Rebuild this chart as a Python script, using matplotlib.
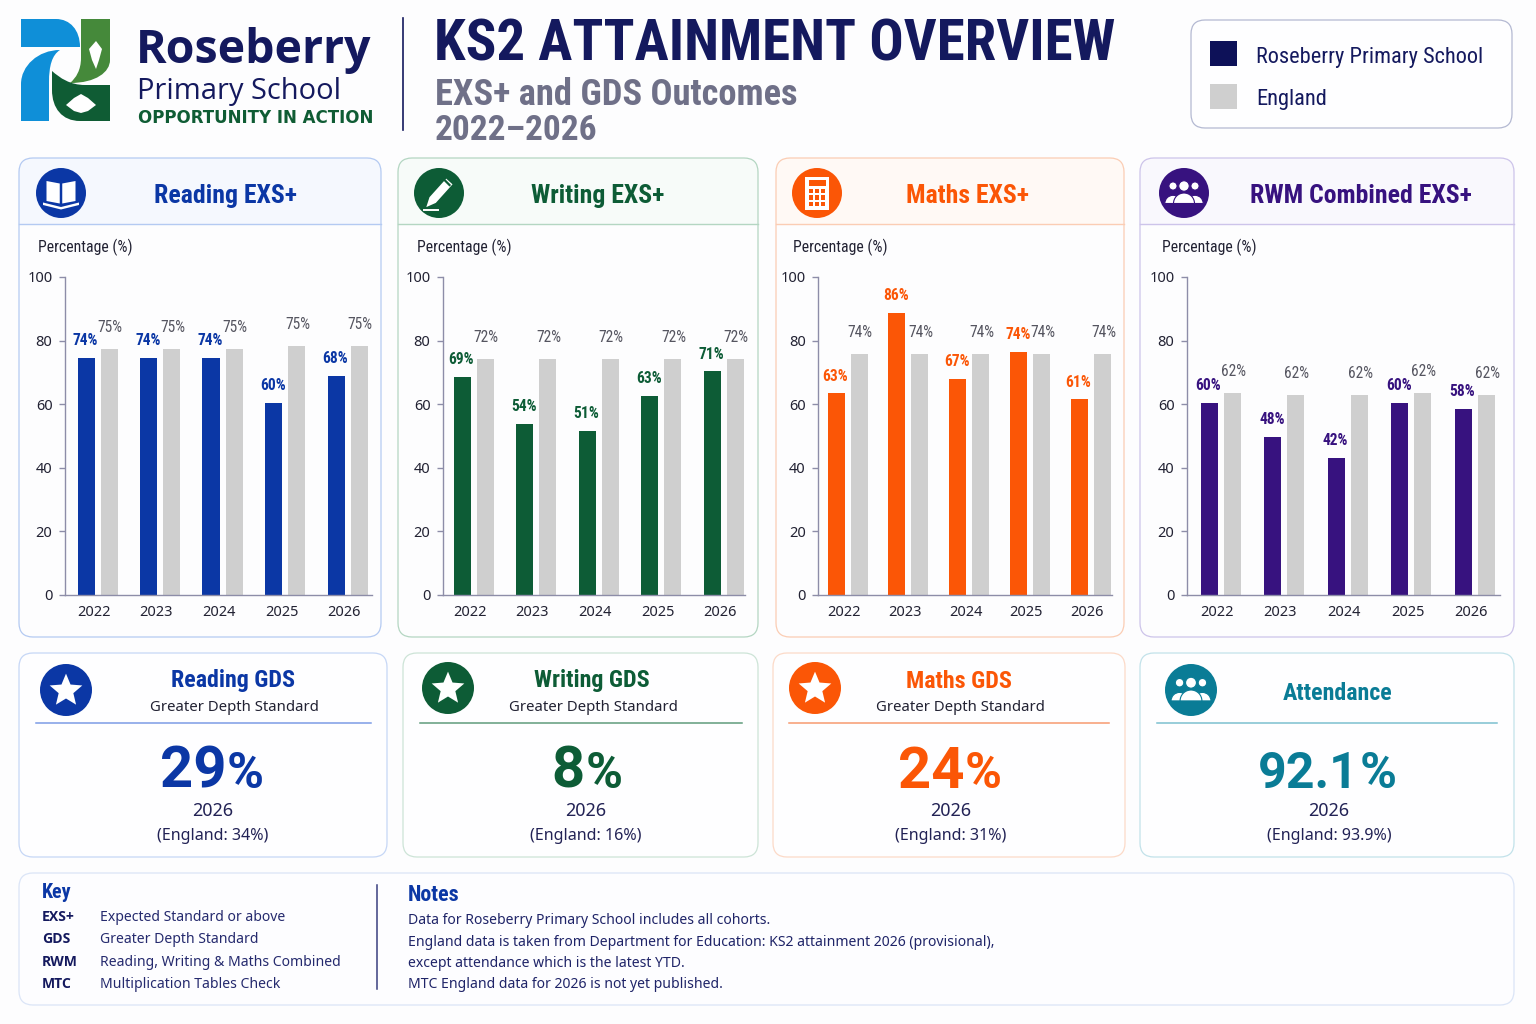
import matplotlib
matplotlib.use('Agg')
import matplotlib.pyplot as plt
import matplotlib.font_manager as fm
from matplotlib.patches import FancyBboxPatch, Circle, Rectangle, PathPatch, Polygon, Wedge
from matplotlib.path import Path
from matplotlib.transforms import Affine2D

W, H = 1536, 1024


def pick(names):
    for n in names:
        try:
            fm.findfont(n, fallback_to_default=False)
            return n
        except ValueError:
            pass
    return 'DejaVu Sans'


NARROW = pick(['Roboto Condensed', 'Liberation Sans Narrow', 'Open Sans Condensed', 'Roboto'])
BODY = 'Noto Sans'
LOGO = 'Open Sans'

# data
years = ['2022', '2023', '2024', '2025', '2026']
yticks = [0, 20, 40, 60, 80, 100]

reading_school = [74.6, 74.6, 74.6, 60.3, 68.9]
reading_england = [77.5, 77.5, 77.5, 78.4, 78.4]
reading_school_labels = ['74%', '74%', '74%', '60%', '68%']
reading_england_labels = ['75%', '75%', '75%', '75%', '75%']

writing_school = [68.7, 53.8, 51.7, 62.7, 70.3]
writing_england = [74.3, 74.3, 74.3, 74.3, 74.3]
writing_school_labels = ['69%', '54%', '51%', '63%', '71%']
writing_england_labels = ['72%', '72%', '72%', '72%', '72%']

maths_school = [63.4, 88.7, 68.0, 76.4, 61.5]
maths_england = [75.7, 75.7, 75.7, 75.7, 75.7]
maths_school_labels = ['63%', '86%', '67%', '74%', '61%']
maths_england_labels = ['74%', '74%', '74%', '74%', '74%']

rwm_school = [60.4, 49.6, 43.2, 60.4, 58.4]
rwm_england = [63.5, 63.0, 63.0, 63.5, 63.0]
rwm_school_labels = ['60%', '48%', '42%', '60%', '58%']
rwm_england_labels = ['62%', '62%', '62%', '62%', '62%']

key_abbr = ['EXS+', 'GDS', 'RWM', 'MTC']
key_desc = ['Expected Standard or above', 'Greater Depth Standard',
            'Reading, Writing & Maths Combined', 'Multiplication Tables Check']
notes = ['Data for Roseberry Primary School includes all cohorts.',
         'England data is taken from Department for Education: KS2 attainment 2026 (provisional),',
         'except attendance which is the latest YTD.',
         'MTC England data for 2026 is not yet published.']

NAVY = '#14195e'
GREY = '#cfcfcf'
BLUE, GREEN, ORANGE, PURPLE, TEAL = '#0b37a5', '#0d5c36', '#fb5606', '#37127f', '#0a7c96'

fig = plt.figure(figsize=(W / 100, H / 100), dpi=100, facecolor='#fdfdfe')
bg = fig.add_axes([0, 0, 1, 1])
bg.set_xlim(0, W)
bg.set_ylim(H, 0)
bg.axis('off')


def txt(x, y, s, px, color=NAVY, ha='center', va='center', weight='normal', family=BODY):
    # noto sans sits a little high when centred
    if family == BODY and va == 'center':
        y += 1.5
    return bg.text(x, y, s, fontsize=px * 0.72, color=color, ha=ha, va=va,
                   fontweight=weight, family=family)


def card(x0, y0, x1, y1, edge, fill='#fefeff', lw=0.9):
    p = FancyBboxPatch((x0, y0), x1 - x0, y1 - y0, boxstyle='round,pad=0,rounding_size=14',
                       fc=fill, ec=edge, lw=lw, zorder=1)
    bg.add_patch(p)
    return p


def ic_book(cx, cy, r, c):
    for s in (-1, 1):
        bg.add_patch(Polygon([(cx + s * .05 * r, cy - .38 * r), (cx + s * .58 * r, cy - .48 * r),
                              (cx + s * .58 * r, cy + .32 * r), (cx + s * .05 * r, cy + .42 * r)],
                             fc='white', ec='none', zorder=4))
    bg.add_patch(Polygon([(cx - .72 * r, cy + .38 * r), (cx, cy + .56 * r), (cx + .72 * r, cy + .38 * r),
                          (cx + .72 * r, cy + .48 * r), (cx, cy + .66 * r), (cx - .72 * r, cy + .48 * r)],
                         fc='white', ec='none', zorder=4))


def ic_pencil(cx, cy, r, c):
    body = Polygon([(-.17, -.62), (.17, -.62), (.17, .38), (0, .76), (-.17, .38)], fc='white', ec='none', zorder=4,
                   transform=Affine2D().scale(r).rotate_deg(42).translate(cx, cy) + bg.transData)
    bg.add_patch(body)
    bg.plot([cx + .22 * r, cx + .42 * r], [cy - .52 * r, cy - .32 * r], color=c, lw=1.6, zorder=5)
    bg.plot([cx - .62 * r, cx - .05 * r], [cy + .68 * r, cy + .68 * r], color='white', lw=1.4, zorder=4)


def ic_calc(cx, cy, r, c):
    bg.add_patch(Rectangle((cx - .48 * r, cy - .66 * r), .96 * r, 1.32 * r, fc='white', ec='none', zorder=4))
    bg.add_patch(Rectangle((cx - .34 * r, cy - .52 * r), .68 * r, .24 * r, fc=c, ec='none', zorder=5))
    for i in range(3):
        for j in range(3):
            bg.add_patch(Rectangle((cx - .34 * r + i * .25 * r, cy - .16 * r + j * .25 * r), .17 * r, .17 * r,
                                   fc=c, ec='none', zorder=5))


def ic_people(cx, cy, r, c):
    for dx, s in ((-.44, .78), (.44, .78), (0, 1)):
        bg.add_patch(Circle((cx + dx * r, cy - .28 * r), .21 * r * s, fc='white', ec=c, lw=.8, zorder=4 + s))
        bg.add_patch(Wedge((cx + dx * r, cy + .42 * r), .42 * r * s, 180, 360, fc='white', ec=c, lw=.8, zorder=4 + s))


def ic_star(cx, cy, r, c):
    tr = Affine2D().scale(.66 * r, -.66 * r).translate(cx, cy + .03 * r) + bg.transData
    bg.add_patch(PathPatch(Path.unit_regular_star(5, 0.45), fc='white', ec='none', transform=tr, zorder=4))


def icon(cx, cy, r, c, fn):
    bg.add_patch(Circle((cx, cy), r, fc=c, ec='none', zorder=3))
    fn(cx, cy, r, c)


# logo
def shape(verts, c):
    codes = [Path.MOVETO] + [Path.CURVE4 if v[2] else Path.LINETO for v in verts[1:]] + [Path.CLOSEPOLY]
    pts = [(v[0], v[1]) for v in verts] + [(verts[0][0], verts[0][1])]
    bg.add_patch(PathPatch(Path(pts, codes), fc=c, ec='none', zorder=2))


shape([(21, 19, 0), (56, 19, 0), (70, 19, 1), (80, 30, 1), (80, 47, 1), (21, 47, 0)], '#0f8fd8')
shape([(60, 50, 0), (38, 50, 1), (21, 66, 1), (21, 84, 1), (21, 121, 0), (49, 121, 0), (49, 82, 0),
       (49, 66, 1), (52, 55, 1), (60, 50, 1)], '#0f8fd8')
shape([(81, 19, 0), (110, 19, 0), (110, 60, 0), (110, 72, 1), (96, 83, 1), (70, 83, 1),
       (76, 78, 1), (81, 70, 1), (81, 58, 1)], '#45893a')
shape([(52, 71, 0), (60, 78, 1), (70, 85, 1), (85, 85, 1), (110, 85, 0), (110, 121, 0), (80, 121, 0),
       (62, 121, 1), (52, 108, 1), (52, 90, 1)], '#0f5c34')
bg.add_patch(Polygon([(96, 41), (102, 49), (99, 60), (96, 69), (92, 60), (89, 49)], fc='white', ec='none', zorder=3))
bg.add_patch(Polygon([(66, 105), (74, 98), (81, 94), (88, 98), (96, 105), (88, 111), (81, 113), (74, 111)],
                     fc='white', ec='none', zorder=3))

# header
txt(136, 50, 'Roseberry', 46.5, ha='left', weight='bold', family=LOGO)
txt(137, 91, 'Primary School', 29, ha='left', family=LOGO)
txt(138, 118, 'OPPORTUNITY IN ACTION', 16.6, color='#0f5c34', ha='left', weight='bold', family='DejaVu Sans')
bg.plot([403, 403], [18, 130], color=NAVY, lw=1.2)
txt(434, 45, 'KS2 ATTAINMENT OVERVIEW', 57, ha='left', weight='bold', family=NARROW)
txt(435, 95, 'EXS+ and GDS Outcomes', 36.5, color='#6f7088', ha='left', weight='bold', family=NARROW)
txt(435, 131, '2022–2026', 35.5, color='#6f7088', ha='left', weight='bold', family=NARROW)

card(1191, 20, 1512, 128, '#b4b9d2')
bg.add_patch(Rectangle((1210, 41), 27, 25, fc='#0d1158', ec='none', zorder=3))
bg.add_patch(Rectangle((1210, 84), 27, 25, fc=GREY, ec='none', zorder=3))
txt(1256, 57, 'Roseberry Primary School', 22.4, ha='left', family=NARROW)
txt(1256, 99, 'England', 22.4, ha='left', family=NARROW)

# top row cards
panels = [
    dict(title='Reading EXS+', c=BLUE, edge='#b4caf2', tint='#f5f8fe', box=(19, 381), icon=(61, 193), tx=225, lx=38,
         spine=65, end=372, first=94, step=62.5, ic=ic_book, school=reading_school, england=reading_england,
         sl=reading_school_labels, el=reading_england_labels),
    dict(title='Writing EXS+', c=GREEN, edge='#b4d6c2', tint='#f7fbf9', box=(398, 758), icon=(439, 193), tx=598, lx=417,
         spine=443, end=745, first=470, step=62.5, ic=ic_pencil, school=writing_school, england=writing_england,
         sl=writing_school_labels, el=writing_england_labels),
    dict(title='Maths EXS+', c=ORANGE, edge='#fbcdb4', tint='#fff9f5', box=(776, 1124), icon=(817, 193), tx=967, lx=793,
         spine=818, end=1112, first=844, step=60.8, ic=ic_calc, school=maths_school, england=maths_england,
         sl=maths_school_labels, el=maths_england_labels),
    dict(title='RWM Combined EXS+', c=PURPLE, edge='#cdc4ea', tint='#f9f8fd', box=(1140, 1514), icon=(1184, 193), tx=1361,
         lx=1162, spine=1187, end=1500, first=1217, step=63.5, ic=ic_people, school=rwm_school, england=rwm_england,
         sl=rwm_school_labels, el=rwm_england_labels),
]

Y100, Y0 = 277, 595
for p in panels:
    x0, x1 = p['box']
    cd = card(x0, 158, x1, 637, p['edge'])
    head = Rectangle((x0, 158), x1 - x0, 66, fc=p['tint'], ec='none', zorder=0.9)
    bg.add_patch(head)
    cd.set_facecolor('none')
    head.set_clip_path(cd)
    bg.plot([x0, x1], [224, 224], color=p['edge'], lw=1, zorder=2)
    icon(p['icon'][0], p['icon'][1], 25, p['c'], p['ic'])
    txt(p['tx'], 196, p['title'], 25.8, color=p['c'], weight='bold', family=NARROW)
    txt(p['lx'], 247, 'Percentage (%)', 15.8, color='#222233', ha='left', family=NARROW)

    ax = fig.add_axes([p['spine'] / W, 1 - Y0 / H, (p['end'] - p['spine']) / W, (Y0 - Y100) / H])
    ax.patch.set_alpha(0)
    pos = list(range(5))
    ax.set_xlim((p['spine'] - p['first']) / p['step'], (p['end'] - p['first']) / p['step'])
    ax.set_ylim(0, 100)
    bw = 17 / p['step']
    off_s, off_e = -8 / p['step'], 15 / p['step']
    ax.bar([i + off_s for i in pos], p['school'], bw, color=p['c'])
    ax.bar([i + off_e for i in pos], p['england'], bw, color=GREY)
    for i in pos:
        ax.annotate(p['sl'][i], (i + off_s, p['school'][i]), xytext=(-0.5, 12.5), textcoords='offset points',
                    ha='center', va='center', fontsize=11.2, fontweight='bold', color=p['c'], family=NARROW)
        ax.annotate(p['el'][i], (i + off_e, p['england'][i]), xytext=(1, 15.5), textcoords='offset points',
                    ha='center', va='center', fontsize=11.2, color='#555560', family=NARROW)
    ax.set_xticks(pos, years)
    ax.set_yticks(yticks)
    for s in ('top', 'right'):
        ax.spines[s].set_visible(False)
    for s in ('left', 'bottom'):
        ax.spines[s].set_color('#8d8da8')
        ax.spines[s].set_linewidth(1)
    ax.tick_params(axis='x', length=0, pad=7, labelsize=10.5, labelcolor='#222233')
    ax.tick_params(axis='y', length=4, width=1, color='#8d8da8', pad=5, labelsize=10.5, labelcolor='#222233')
    for l in ax.get_xticklabels() + ax.get_yticklabels():
        l.set_family(BODY)

# bottom row cards
gds_cards = [
    dict(title='Reading GDS', sub=True, c=BLUE, edge='#c6d7f6', line='#7c9ce6', box=(19, 387), rule=(36, 371), icon=(66, 690),
         tx=233, split=226, cx=213, val='29', size=58, eng='(England: 34%)', ic=ic_star),
    dict(title='Writing GDS', sub=True, c=GREEN, edge='#cde4d7', line='#5f9c7c', box=(403, 758), rule=(420, 742), icon=(448, 688),
         tx=592, split=585, cx=586, val='8', size=58, eng='(England: 16%)', ic=ic_star),
    dict(title='Maths GDS', sub=True, c=ORANGE, edge='#fcdac8', line='#f79a70', box=(773, 1125), rule=(789, 1109), icon=(815, 688),
         tx=959, split=964, cx=951, val='24', size=58, eng='(England: 31%)', ic=ic_star),
    dict(title='Attendance', sub=False, c=TEAL, edge='#c2e2ea', line='#7cc0d0', box=(1140, 1514), rule=(1157, 1497), icon=(1191, 690),
         tx=1338, split=1359, cx=1329, val='92.1', size=50, eng='(England: 93.9%)', ic=ic_people),
]

for g in gds_cards:
    card(g['box'][0], 653, g['box'][1], 857, g['edge'])
    bg.plot(g['rule'], [723, 723], color=g['line'], lw=1.1, zorder=2)
    icon(g['icon'][0], g['icon'][1], 26, g['c'], g['ic'])
    if g['sub']:
        txt(g['tx'], 681, g['title'], 24, color=g['c'], weight='bold', family=NARROW)
        txt(g['tx'] + 1, 706, 'Greater Depth Standard', 14.9, color='#222233')
    else:
        txt(g['tx'], 693, g['title'], 24, color=g['c'], weight='bold', family=NARROW)
    txt(g['split'], 788, g['val'], g['size'], color=g['c'], ha='right', va='baseline', weight='bold', family='Roboto')
    txt(g['split'] + 1, 788, '%', 50, color=g['c'], ha='left', va='baseline', weight='bold', family='Roboto')
    txt(g['cx'], 810, '2026', 18, color='#222255')
    txt(g['cx'], 835, g['eng'], 16, color='#222255')

# key and notes
card(19, 873, 1514, 1005, '#dbe5f7', fill='#fdfdff')
txt(42, 892, 'Key', 20, color=BLUE, ha='left', weight='bold', family=NARROW)
key_y = [917, 939, 962, 984]
for y, a, d in zip(key_y, key_abbr, key_desc):
    txt(42, y, a, 14, ha='left', weight='bold', family='Open Sans')
    txt(100, y - 1, d, 14, color='#252a6e', ha='left')
bg.plot([377, 377], [885, 989], color='#3a3f80', lw=1.1, zorder=2)
txt(408, 895, 'Notes', 22, color=BLUE, ha='left', weight='bold', family=NARROW)
for y, n in zip([919, 941, 962, 983], notes):
    txt(408, y, n, 14, color='#1f2468', ha='left')

fig.savefig('out.png', dpi=100, facecolor=fig.get_facecolor())
